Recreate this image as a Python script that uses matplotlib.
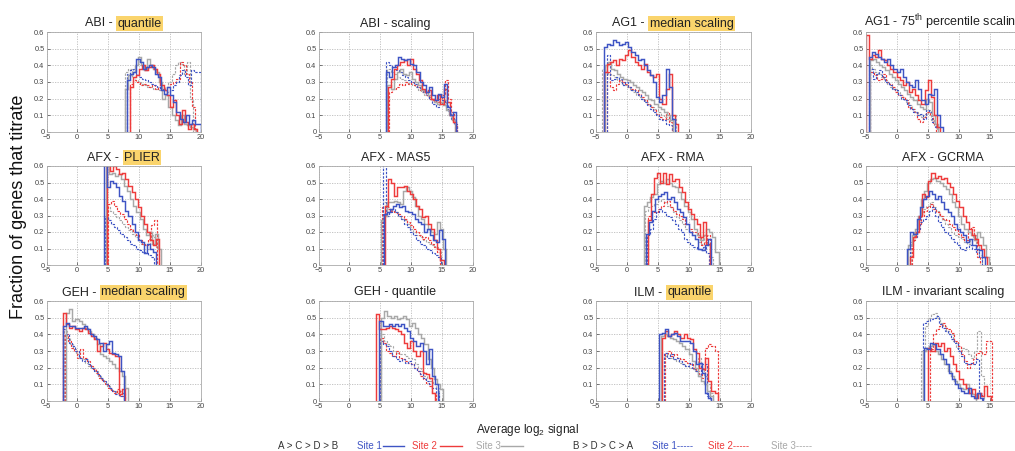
import numpy as np
import matplotlib
matplotlib.use("Agg")
import matplotlib.pyplot as plt
from matplotlib.lines import Line2D

plt.rcParams['font.family'] = ['Liberation Sans', 'DejaVu Sans']
plt.rcParams['mathtext.fontset'] = 'custom'
plt.rcParams['mathtext.rm'] = 'Liberation Sans'
plt.rcParams['mathtext.it'] = 'Liberation Sans:italic'
plt.rcParams['mathtext.bf'] = 'Liberation Sans:bold'

# ---------------- data ----------------
BIN = 0.5
XTICKS = [-5, 0, 5, 10, 15, 20]
YTICKS = [0, 0.1, 0.2, 0.3, 0.4, 0.5, 0.6]
YTICK_LABELS = ["0", "0.1", "0.2", "0.3", "0.4", "0.5", "0.6"]

# each series: (start of first bin, fraction per bin)
ABI_QUANTILE = {
    "d3": (7.8, [0.36, 0.38, 0.33, 0.31, 0.30, 0.29, 0.28, 0.27, 0.27, 0.26, 0.26, 0.25, 0.25, 0.27, 0.30, 0.35, 0.40, 0.42, 0.41, 0.35, 0.42, 0.20]),
    "d2": (8.6, [0.29, 0.31, 0.30, 0.28, 0.29, 0.28, 0.27, 0.28, 0.26, 0.27, 0.25, 0.26, 0.27, 0.29, 0.30, 0.32, 0.42, 0.40, 0.35, 0.30, 0.15]),
    "d1": (8.0, [0.35, 0.37, 0.38, 0.35, 0.33, 0.32, 0.31, 0.30, 0.29, 0.28, 0.27, 0.26, 0.25, 0.24, 0.25, 0.28, 0.30, 0.34, 0.37, 0.33, 0.28, 0.37, 0.36, 0.36]),
    "s3": (7.8, [0.26, 0.34, 0.36, 0.40, 0.45, 0.40, 0.37, 0.44, 0.40, 0.38, 0.36, 0.30, 0.20, 0.22, 0.15, 0.10, 0.07, 0.04, 0.10, 0.05, 0.04, 0.03, 0.02]),
    "s2": (8.5, [0.27, 0.33, 0.34, 0.38, 0.40, 0.37, 0.39, 0.40, 0.38, 0.35, 0.28, 0.25, 0.22, 0.15, 0.19, 0.10, 0.05, 0.13, 0.06, 0.02, 0.05, 0.02]),
    "s1": (8.1, [0.31, 0.35, 0.36, 0.44, 0.42, 0.38, 0.39, 0.40, 0.39, 0.35, 0.33, 0.25, 0.23, 0.27, 0.22, 0.18, 0.12, 0.08, 0.06, 0.10, 0.05, 0.07, 0.05, 0.05]),
}
ABI_SCALING = {
    "d3": (6.2, [0.38, 0.36, 0.35, 0.33, 0.32, 0.31, 0.30, 0.29, 0.28, 0.27, 0.25, 0.24, 0.22, 0.21, 0.20, 0.18, 0.17, 0.18, 0.19, 0.14, 0.10, 0.08]),
    "d2": (6.5, [0.24, 0.26, 0.27, 0.29, 0.28, 0.30, 0.29, 0.30, 0.28, 0.27, 0.25, 0.24, 0.22, 0.20, 0.19, 0.18, 0.20, 0.22, 0.31, 0.20, 0.12, 0.05]),
    "d1": (6.0, [0.42, 0.40, 0.39, 0.37, 0.36, 0.34, 0.33, 0.31, 0.30, 0.29, 0.27, 0.26, 0.24, 0.22, 0.20, 0.17, 0.15, 0.17, 0.19, 0.16, 0.12, 0.08, 0.05]),
    "s3": (6.2, [0.28, 0.26, 0.32, 0.36, 0.38, 0.35, 0.34, 0.36, 0.32, 0.30, 0.28, 0.25, 0.24, 0.22, 0.20, 0.18, 0.17, 0.18, 0.16, 0.13, 0.10, 0.07]),
    "s2": (6.3, [0.27, 0.32, 0.38, 0.40, 0.42, 0.43, 0.40, 0.44, 0.38, 0.35, 0.31, 0.26, 0.24, 0.25, 0.20, 0.19, 0.22, 0.17, 0.26, 0.18, 0.10, 0.06]),
    "s1": (5.9, [0.36, 0.33, 0.39, 0.40, 0.45, 0.44, 0.43, 0.44, 0.41, 0.40, 0.36, 0.30, 0.28, 0.24, 0.27, 0.22, 0.19, 0.23, 0.21, 0.29, 0.15, 0.10, 0.12]),
}
AG1_MEDIAN = {
    "d3": (-4.0, [0.38, 0.36, 0.35, 0.34, 0.33, 0.31, 0.30, 0.28, 0.27, 0.25, 0.24, 0.22, 0.21, 0.20, 0.18, 0.17, 0.15, 0.14, 0.12, 0.10, 0.09, 0.08, 0.06, 0.10]),
    "d2": (-3.2, [0.36, 0.27, 0.25, 0.29, 0.31, 0.30, 0.29, 0.27, 0.26, 0.25, 0.23, 0.21, 0.19, 0.17, 0.15, 0.13, 0.11, 0.09, 0.08, 0.12, 0.06]),
    "d1": (-3.2, [0.46, 0.31, 0.32, 0.33, 0.32, 0.28, 0.30, 0.27, 0.25, 0.24, 0.22, 0.20, 0.18, 0.16, 0.14, 0.12, 0.10, 0.08, 0.07, 0.05, 0.04]),
    "s3": (-3.5, [0.40, 0.42, 0.38, 0.37, 0.35, 0.33, 0.32, 0.31, 0.30, 0.28, 0.27, 0.25, 0.24, 0.22, 0.20, 0.19, 0.17, 0.15, 0.14, 0.12, 0.10, 0.07]),
    "s2": (-3.7, [0.36, 0.41, 0.42, 0.43, 0.40, 0.44, 0.43, 0.46, 0.49, 0.45, 0.42, 0.40, 0.38, 0.41, 0.36, 0.34, 0.33, 0.35, 0.20, 0.17, 0.26, 0.35, 0.10, 0.05]),
    "s1": (-3.7, [0.51, 0.53, 0.52, 0.55, 0.54, 0.52, 0.53, 0.54, 0.51, 0.48, 0.46, 0.43, 0.44, 0.40, 0.37, 0.34, 0.30, 0.21, 0.18, 0.22, 0.38, 0.27, 0.08]),
}
AG1_P75 = {
    "d3": (-4.5, [0.40, 0.38, 0.36, 0.35, 0.33, 0.31, 0.29, 0.27, 0.26, 0.24, 0.22, 0.20, 0.18, 0.16, 0.14, 0.12, 0.10, 0.09, 0.11, 0.13, 0.07, 0.04, 0.02]),
    "d2": (-4.2, [0.36, 0.34, 0.31, 0.32, 0.35, 0.30, 0.29, 0.27, 0.24, 0.22, 0.21, 0.19, 0.15, 0.14, 0.12, 0.08, 0.06, 0.09, 0.12, 0.10, 0.05]),
    "d1": (-4.3, [0.38, 0.32, 0.35, 0.37, 0.33, 0.30, 0.28, 0.26, 0.25, 0.22, 0.20, 0.19, 0.16, 0.14, 0.12, 0.10, 0.11, 0.08, 0.13, 0.12, 0.06, 0.03]),
    "s3": (-4.3, [0.43, 0.44, 0.42, 0.40, 0.39, 0.37, 0.35, 0.33, 0.31, 0.29, 0.27, 0.25, 0.23, 0.21, 0.19, 0.17, 0.15, 0.14, 0.20, 0.18, 0.10, 0.05]),
    "s2": (-5.0, [0.58, 0.44, 0.46, 0.45, 0.49, 0.44, 0.43, 0.40, 0.38, 0.36, 0.33, 0.31, 0.28, 0.30, 0.24, 0.26, 0.22, 0.19, 0.17, 0.25, 0.31, 0.21, 0.10, 0.03]),
    "s1": (-4.5, [0.45, 0.48, 0.47, 0.45, 0.44, 0.42, 0.44, 0.40, 0.38, 0.36, 0.38, 0.33, 0.30, 0.28, 0.27, 0.31, 0.26, 0.19, 0.17, 0.23, 0.22, 0.26, 0.10, 0.03]),
}
AFX_PLIER = {
    "d3": (4.8, [0.35, 0.33, 0.31, 0.29, 0.27, 0.25, 0.23, 0.21, 0.19, 0.17, 0.15, 0.13, 0.12, 0.10, 0.18, 0.17, 0.11]),
    "d2": (5.0, [0.37, 0.39, 0.36, 0.33, 0.31, 0.28, 0.25, 0.22, 0.20, 0.18, 0.15, 0.13, 0.12, 0.16, 0.24, 0.27]),
    "d1": (4.5, [0.30, 0.27, 0.25, 0.23, 0.21, 0.19, 0.17, 0.15, 0.13, 0.12, 0.10, 0.09, 0.08, 0.07, 0.06, 0.05]),
    "s3": (4.6, [0.62, 0.55, 0.56, 0.54, 0.55, 0.52, 0.48, 0.45, 0.40, 0.36, 0.32, 0.28, 0.22, 0.18, 0.20, 0.13, 0.19, 0.10]),
    "s2": (4.8, [0.65, 0.57, 0.60, 0.58, 0.55, 0.56, 0.52, 0.48, 0.44, 0.40, 0.35, 0.30, 0.25, 0.20, 0.15, 0.12, 0.16]),
    "s1": (4.3, [0.65, 0.47, 0.51, 0.50, 0.47, 0.42, 0.39, 0.33, 0.30, 0.25, 0.20, 0.15, 0.14, 0.07, 0.13, 0.10, 0.08]),
}
AFX_MAS5 = {
    "d3": (5.4, [0.38, 0.35, 0.34, 0.33, 0.32, 0.30, 0.28, 0.27, 0.25, 0.22, 0.20, 0.18, 0.17, 0.15, 0.14, 0.13, 0.12, 0.11, 0.10]),
    "d2": (5.3, [0.35, 0.36, 0.34, 0.33, 0.32, 0.31, 0.30, 0.28, 0.26, 0.24, 0.22, 0.20, 0.18, 0.16, 0.17, 0.15, 0.13, 0.11, 0.08]),
    "d1": (5.4, [0.62, 0.30, 0.32, 0.34, 0.32, 0.30, 0.28, 0.25, 0.23, 0.20, 0.18, 0.15, 0.13, 0.12, 0.10, 0.09, 0.07, 0.06, 0.05]),
    "s3": (5.2, [0.27, 0.30, 0.38, 0.38, 0.39, 0.38, 0.37, 0.45, 0.47, 0.45, 0.41, 0.36, 0.30, 0.28, 0.25, 0.22, 0.20, 0.19, 0.26, 0.22, 0.10]),
    "s2": (5.8, [0.36, 0.52, 0.50, 0.42, 0.47, 0.47, 0.48, 0.45, 0.43, 0.40, 0.36, 0.34, 0.29, 0.30, 0.25, 0.22, 0.15, 0.10, 0.03]),
    "s1": (5.6, [0.31, 0.32, 0.34, 0.36, 0.37, 0.35, 0.36, 0.33, 0.32, 0.31, 0.28, 0.26, 0.25, 0.20, 0.22, 0.18, 0.15, 0.14, 0.21, 0.16]),
}
AFX_RMA = {
    "d3": (3.0, [0.33, 0.35, 0.36, 0.37, 0.39, 0.40, 0.38, 0.36, 0.35, 0.32, 0.29, 0.27, 0.25, 0.22, 0.20, 0.18, 0.16, 0.14, 0.13, 0.18, 0.12, 0.05]),
    "d2": (3.5, [0.30, 0.33, 0.32, 0.34, 0.36, 0.38, 0.39, 0.35, 0.33, 0.31, 0.30, 0.28, 0.25, 0.22, 0.20, 0.20, 0.17, 0.12, 0.14, 0.18]),
    "d1": (3.3, [0.18, 0.22, 0.28, 0.32, 0.34, 0.32, 0.30, 0.29, 0.27, 0.25, 0.22, 0.20, 0.16, 0.14, 0.12, 0.11, 0.10, 0.09, 0.11, 0.07]),
    "s3": (2.85, [0.36, 0.38, 0.41, 0.43, 0.49, 0.51, 0.50, 0.52, 0.50, 0.48, 0.47, 0.44, 0.40, 0.36, 0.32, 0.28, 0.22, 0.18, 0.15, 0.18, 0.22, 0.20, 0.17, 0.08]),
    "s2": (3.4, [0.27, 0.43, 0.53, 0.56, 0.50, 0.56, 0.49, 0.55, 0.51, 0.52, 0.47, 0.44, 0.38, 0.34, 0.31, 0.28, 0.25, 0.17, 0.26, 0.13]),
    "s1": (3.1, [0.19, 0.26, 0.33, 0.40, 0.42, 0.43, 0.44, 0.40, 0.41, 0.38, 0.34, 0.32, 0.29, 0.25, 0.20, 0.18, 0.16, 0.10, 0.09, 0.12, 0.16]),
}
AFX_GCRMA = {
    "d3": (2.3, [0.14, 0.20, 0.27, 0.31, 0.34, 0.36, 0.38, 0.35, 0.33, 0.30, 0.27, 0.25, 0.23, 0.20, 0.18, 0.17, 0.16, 0.14, 0.13, 0.16, 0.18, 0.12, 0.06]),
    "d2": (2.4, [0.15, 0.20, 0.25, 0.30, 0.33, 0.35, 0.37, 0.34, 0.32, 0.30, 0.28, 0.27, 0.25, 0.23, 0.21, 0.19, 0.17, 0.15, 0.20, 0.23, 0.15, 0.05]),
    "d1": (2.2, [0.12, 0.17, 0.22, 0.26, 0.28, 0.30, 0.33, 0.35, 0.30, 0.26, 0.23, 0.20, 0.18, 0.16, 0.14, 0.12, 0.10, 0.09, 0.11, 0.12, 0.10, 0.08, 0.05]),
    "s3": (1.9, [0.12, 0.18, 0.22, 0.30, 0.40, 0.45, 0.50, 0.52, 0.53, 0.51, 0.50, 0.48, 0.46, 0.43, 0.38, 0.35, 0.30, 0.25, 0.22, 0.20, 0.18, 0.15, 0.20, 0.17, 0.12, 0.05]),
    "s2": (2.1, [0.05, 0.17, 0.20, 0.30, 0.43, 0.41, 0.51, 0.56, 0.53, 0.54, 0.52, 0.53, 0.50, 0.47, 0.43, 0.39, 0.35, 0.30, 0.26, 0.22, 0.18, 0.16, 0.12, 0.10, 0.05]),
    "s1": (1.7, [0.10, 0.20, 0.19, 0.28, 0.35, 0.40, 0.42, 0.45, 0.43, 0.40, 0.42, 0.38, 0.34, 0.32, 0.30, 0.25, 0.22, 0.20, 0.18, 0.14, 0.16, 0.12, 0.10, 0.09, 0.05]),
}
GEH_MEDIAN = {
    "d3": (-2.2, [0.42, 0.38, 0.34, 0.31, 0.28, 0.26, 0.25, 0.23, 0.21, 0.20, 0.18, 0.15, 0.13, 0.11, 0.09, 0.07, 0.06, 0.05, 0.06, 0.04]),
    "d2": (-2.0, [0.40, 0.36, 0.32, 0.30, 0.26, 0.31, 0.26, 0.24, 0.21, 0.19, 0.17, 0.14, 0.12, 0.10, 0.08, 0.06, 0.05, 0.07, 0.03]),
    "d1": (-2.3, [0.43, 0.40, 0.35, 0.33, 0.30, 0.26, 0.24, 0.25, 0.22, 0.20, 0.18, 0.16, 0.14, 0.12, 0.10, 0.08, 0.06, 0.04, 0.03, 0.05]),
    "s3": (-1.8, [0.53, 0.55, 0.48, 0.49, 0.48, 0.46, 0.44, 0.42, 0.40, 0.38, 0.34, 0.28, 0.27, 0.26, 0.24, 0.22, 0.20, 0.18, 0.15, 0.08]),
    "s2": (-2.3, [0.53, 0.46, 0.44, 0.45, 0.43, 0.42, 0.44, 0.43, 0.41, 0.39, 0.37, 0.30, 0.33, 0.35, 0.31, 0.29, 0.28, 0.27, 0.04, 0.07]),
    "s1": (-2.4, [0.45, 0.47, 0.45, 0.45, 0.44, 0.44, 0.44, 0.45, 0.43, 0.40, 0.39, 0.37, 0.35, 0.30, 0.34, 0.36, 0.29, 0.28, 0.27, 0.18]),
}
GEH_QUANTILE = {
    "d3": (5.1, [0.40, 0.36, 0.34, 0.33, 0.30, 0.29, 0.28, 0.28, 0.27, 0.26, 0.25, 0.22, 0.20, 0.18, 0.15, 0.14, 0.12, 0.10, 0.08]),
    "d2": (5.0, [0.38, 0.35, 0.30, 0.29, 0.27, 0.30, 0.26, 0.25, 0.24, 0.23, 0.22, 0.20, 0.18, 0.15, 0.13, 0.11, 0.09, 0.05]),
    "d1": (5.0, [0.36, 0.34, 0.33, 0.30, 0.27, 0.25, 0.24, 0.25, 0.23, 0.24, 0.22, 0.20, 0.18, 0.16, 0.14, 0.12, 0.10, 0.08, 0.05]),
    "s3": (5.2, [0.50, 0.54, 0.51, 0.50, 0.51, 0.49, 0.50, 0.51, 0.49, 0.45, 0.47, 0.44, 0.40, 0.38, 0.34, 0.25, 0.20, 0.13, 0.10, 0.07]),
    "s2": (4.4, [0.52, 0.43, 0.43, 0.44, 0.45, 0.44, 0.43, 0.42, 0.40, 0.35, 0.32, 0.36, 0.30, 0.27, 0.30, 0.17, 0.16, 0.14, 0.05]),
    "s1": (4.9, [0.48, 0.45, 0.45, 0.46, 0.45, 0.46, 0.45, 0.46, 0.44, 0.42, 0.38, 0.36, 0.33, 0.35, 0.30, 0.22, 0.31, 0.15, 0.10]),
}
ILM_QUANTILE = {
    "d3": (6.0, [0.27, 0.28, 0.26, 0.25, 0.24, 0.23, 0.22, 0.21, 0.20, 0.19, 0.18, 0.26, 0.20, 0.15, 0.10, 0.05]),
    "d2": (6.2, [0.29, 0.30, 0.27, 0.28, 0.26, 0.25, 0.24, 0.23, 0.22, 0.20, 0.18, 0.16, 0.14, 0.32, 0.34, 0.33, 0.30]),
    "d1": (6.0, [0.29, 0.26, 0.28, 0.25, 0.26, 0.24, 0.22, 0.21, 0.23, 0.20, 0.18, 0.15, 0.22, 0.22, 0.03]),
    "s3": (5.5, [0.39, 0.40, 0.39, 0.38, 0.37, 0.36, 0.35, 0.33, 0.31, 0.28, 0.24, 0.20, 0.15, 0.12, 0.10, 0.06, 0.03]),
    "s2": (5.7, [0.38, 0.42, 0.39, 0.40, 0.42, 0.40, 0.38, 0.40, 0.38, 0.37, 0.31, 0.29, 0.20, 0.19, 0.26, 0.12, 0.06, 0.05]),
    "s1": (5.2, [0.40, 0.41, 0.43, 0.39, 0.40, 0.41, 0.39, 0.36, 0.36, 0.36, 0.35, 0.30, 0.22, 0.23, 0.17, 0.05, 0.02]),
}
ILM_INVARIANT = {
    "d3": (4.0, [0.30, 0.45, 0.50, 0.52, 0.53, 0.50, 0.47, 0.45, 0.42, 0.40, 0.36, 0.32, 0.30, 0.32, 0.31, 0.28, 0.26, 0.30, 0.42, 0.15]),
    "d2": (5.3, [0.31, 0.40, 0.43, 0.45, 0.47, 0.44, 0.43, 0.41, 0.36, 0.33, 0.28, 0.24, 0.20, 0.22, 0.25, 0.29, 0.30, 0.28, 0.36, 0.36]),
    "d1": (4.3, [0.47, 0.48, 0.49, 0.50, 0.51, 0.46, 0.44, 0.42, 0.40, 0.37, 0.35, 0.30, 0.27, 0.23, 0.22, 0.23, 0.22, 0.25, 0.05]),
    "s3": (4.2, [0.30, 0.32, 0.33, 0.34, 0.30, 0.28, 0.25, 0.22, 0.18, 0.15, 0.12, 0.10, 0.08, 0.07, 0.10, 0.05, 0.04]),
    "s2": (5.1, [0.32, 0.30, 0.35, 0.33, 0.35, 0.30, 0.32, 0.27, 0.22, 0.18, 0.13, 0.10, 0.08, 0.05, 0.07, 0.02, 0.05, 0.03, 0.09, 0.03]),
    "s1": (4.4, [0.32, 0.31, 0.35, 0.34, 0.31, 0.28, 0.25, 0.22, 0.17, 0.13, 0.10, 0.08, 0.06, 0.05, 0.08, 0.03, 0.02, 0.05, 0.02]),
}

PANELS = [
    [(ABI_QUANTILE, "ABI -", "quantile"), (ABI_SCALING, "ABI - scaling", None),
     (AG1_MEDIAN, "AG1 -", "median scaling"), (AG1_P75, r"AG1 - 75$^{\mathrm{th}}$ percentile scaling", None)],
    [(AFX_PLIER, "AFX -", "PLIER"), (AFX_MAS5, "AFX - MAS5", None),
     (AFX_RMA, "AFX - RMA", None), (AFX_GCRMA, "AFX - GCRMA", None)],
    [(GEH_MEDIAN, "GEH -", "median scaling"), (GEH_QUANTILE, "GEH - quantile", None),
     (ILM_QUANTILE, "ILM -", "quantile"), (ILM_INVARIANT, "ILM - invariant scaling", None)],
]

# ---------------- style ----------------
W, H = 1015, 451
BLUE, RED, GRAY = "#3E54C4", "#EE3B3B", "#A8A8A8"
HIGHLIGHT = "#FAD46C"
COLS = [(46.5, 200.5), (318.5, 472.5), (595.5, 750.5), (865.5, 1021.0)]
ROWS = [(32, 132), (166, 265), (301, 401)]
STYLE = {
    "d3": (GRAY, (0, (2.0, 1.2)), 0.85),
    "d2": (RED, (0, (2.0, 1.2)), 0.85),
    "d1": (BLUE, (0, (2.0, 1.2)), 0.85),
    "s3": (GRAY, "-", 1.05),
    "s2": (RED, "-", 1.05),
    "s1": (BLUE, "-", 1.05),
}

fig = plt.figure(figsize=(W / 100, H / 100), dpi=100)
renderer = fig.canvas.get_renderer()


def px(x, y):
    return x / W, 1 - y / H


def text_w(s, **kw):
    t = fig.text(0, 0, s, **kw)
    w = t.get_window_extent(renderer).width
    t.remove()
    return w


TFS = 9
for r, row in enumerate(PANELS):
    for c, (data, title, hl) in enumerate(row):
        x0, x1 = COLS[c]
        yt, yb = ROWS[r]
        ax = fig.add_axes([x0 / W, 1 - yb / H, (x1 - x0) / W, (yb - yt) / H])
        ax.set_xlim(-5, 20)
        ax.set_ylim(0, 0.6)
        ax.set_xticks(XTICKS)
        ax.set_yticks(YTICKS)
        ax.set_yticklabels(YTICK_LABELS)
        ax.tick_params(labelsize=5.3, colors="#444444", length=2, width=0.5, pad=1.5,
                       direction="in")
        ax.grid(True, color="#BBBBBB", lw=0.6, ls=(0, (1.5, 1.5)))
        ax.set_axisbelow(True)
        for sp in ax.spines.values():
            sp.set_color("#AAAAAA")
            sp.set_linewidth(0.6)
        for key in ["d3", "d2", "d1", "s3", "s2", "s1"]:
            start, vals = data[key]
            edges = start + BIN * np.arange(len(vals) + 1)
            col, ls, lw = STYLE[key]
            ax.stairs(vals, edges, baseline=0, color=col, ls=ls, lw=lw)
        # title
        cx = (x0 + x1) / 2
        base = yt - 5.5
        if hl is None:
            fig.text(*px(cx, base), title, ha="center", va="baseline", fontsize=TFS, color="#222222")
        else:
            gap = 5.0
            w1 = text_w(title, fontsize=TFS)
            w2 = text_w(hl, fontsize=TFS)
            left = cx - (w1 + gap + w2) / 2
            fig.text(*px(left, base), title, ha="left", va="baseline", fontsize=TFS, color="#222222")
            fig.text(*px(left + w1 + gap, base), hl, ha="left", va="baseline", fontsize=TFS,
                     color="#222222",
                     bbox=dict(boxstyle="square,pad=0.12", fc=HIGHLIGHT, ec="none"))

# axis labels
fig.text(*px(18.5, 207), "Fraction of genes that titrate", rotation=90, ha="center", va="center",
         fontsize=13, color="#111111")
fig.text(*px(527, 430), r"Average log$_2$ signal", ha="center", va="center", fontsize=8.5,
         color="#222222")

# legend row
LEG_Y = 446
legend_items = [
    ("A > C > D > B", 278, "#333333"),
    ("Site 1", 357, BLUE), ("Site 2", 412, RED), ("Site 3", 476, GRAY),
    ("B > D > C > A", 573, "#333333"),
    ("Site 1-----", 652, BLUE), ("Site 2-----", 708, RED), ("Site 3-----", 771, GRAY),
]
for s, x, col in legend_items:
    fig.text(*px(x, LEG_Y), s, ha="left", va="center", fontsize=7, color=col)
for (xa, xb), col in [((383, 404), BLUE), ((440, 462), RED), ((501, 523), GRAY)]:
    fig.add_artist(Line2D([xa / W, xb / W], [1 - LEG_Y / H, 1 - LEG_Y / H],
                          color=col, lw=1.0, transform=fig.transFigure))

fig.savefig("out.png", dpi=100)
